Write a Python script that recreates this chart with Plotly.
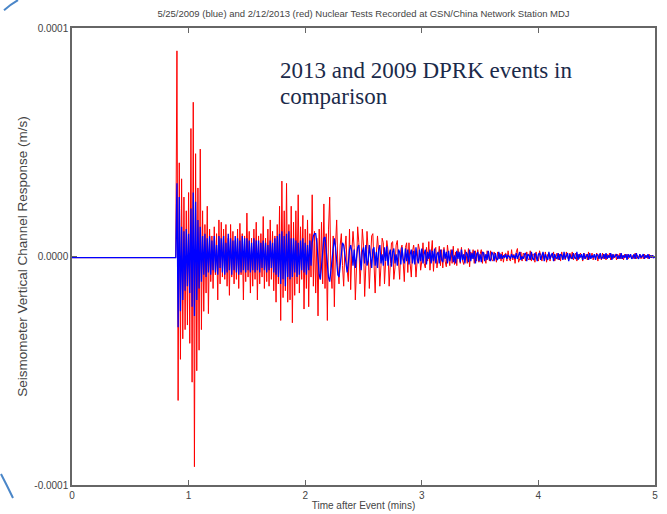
import numpy as np
import plotly.graph_objects as go

# Vertical-channel velocity at station MDJ, in units of 1e-5 m/s.
# Each record is sampled every 0.01 min starting at t = 0.89 min;
# before that the trace is quiet.
sample_start = 0.89
sample_step = 0.01
quiet_times = [0.0, 0.88]
quiet_level = [-0.05, -0.05]

# 2/12/2013 event (red)
red_amp = [
    -0.05, 9.0, -6.3, 4.1, -4.5, 3.4, -3.6, 2.6, -3.2, 2.0,
    -3.0, 2.8, -3.8, 5.6, -5.5, 6.75, -9.2, 4.5, -5.0, 3.0,
    -4.1, 4.7, -3.2, 2.0, -2.4, 1.4, -1.6, 2.2, -2.5, 1.2,
    -1.1, 0.9, -1.4, 1.3, -0.8, 1.0, -1.9, 1.6, -1.2, 1.5,
    -0.9, 1.2, -1.0, 1.4, -1.3, 0.8, -1.7, 1.4, -0.9, 1.1,
    -1.2, 0.7, -1.0, 1.2, -1.4, 1.45, -0.8, 1.0, -1.9, 0.9,
    -1.1, 1.9, -0.9, 1.1, -1.6, 0.8, -1.3, 1.2, -1.0, 1.5,
    -1.9, 0.9, -1.2, 1.0, -0.9, 1.75, -1.4, 0.8, -1.1, 1.2,
    -1.3, 1.6, -1.0, 1.1, -1.5, 0.9, -2.0, 1.4, -1.2, 2.2,
    -2.8, 3.3, -1.8, 2.0, -1.5, 3.2, -2.0, 1.4, -1.9, 2.2,
    -2.9, 1.5, -1.7, 2.0, -1.2, 2.7, -1.6, 1.3, -1.0, 1.8,
    -2.3, 1.2, -1.4, 1.6, -2.2, 1.0, -0.9, 2.7, -1.3, 1.1,
    -1.6, 0.8, -2.6, 1.2, -1.0, 1.5, -1.2, 2.3, -1.4, 1.0,
    -2.8, 1.2, 2.6, -0.6, -1.4, 0.9, -2.2, 0.5, 1.6, -0.4,
    -1.2, 0.5, 1.0, -0.4, -1.3, 0.3, 0.9, -0.6, -1.1, 1.2,
    -1.45, 0.2, 1.1, 0.4, -1.9, -0.5, 1.3, 0.6, -1.2, -0.3,
    1.2, 0.5, -1.75, -0.4, 1.1, 0.3, -1.4, -0.2, 0.9, 1.0,
    -0.3, -1.6, 0.1, 0.9, 0.2, -1.3, -0.4, 0.8, 0.6, -1.2,
    -0.2, 0.7, 0.3, -1.3, -0.3, 0.6, 0.65, -1.0, -0.5, 0.5,
    0.7, -0.4, -1.0, 0.3, 0.5, -0.2, -1.1, 0.4, 0.6, -0.7,
    0.6, -0.3, -0.9, 0.2, 0.5, 0.1, -0.9, -0.2, 0.55, 0.3,
    -0.6, -0.2, 0.6, -0.3, -0.5, 0.4, -0.2, 0.65, -0.6, 0.1,
    0.7, -0.65, 0.2, 0.4, -0.5, -0.1, 0.45, -0.4, 0.3, -0.5,
    0.4, -0.2, -0.45, 0.5, 0.1, -0.4, 0.3, -0.3, 0.45, -0.35,
    0.2, -0.4, 0.35, 0.1, -0.3, 0.4, -0.2, -0.35, 0.3, 0.1,
    -0.3, 0.35, -0.45, 0.2, -0.1, 0.3, -0.3, 0.25, -0.2, 0.3,
    -0.25, 0.1, 0.3, -0.3, 0.2, -0.1, -0.3, 0.25, 0.1, -0.2,
    0.25, -0.15, -0.2, 0.2, 0.05, -0.25, 0.2, -0.1, 0.15, -0.2,
    0.2, -0.25, 0.1, 0.15, -0.2, 0.25, -0.1, -0.2, 0.3, -0.15,
    0.1, -0.3, 0.2, 0.35, -0.25, -0.1, 0.2, -0.2, 0.15, 0.05,
    -0.2, 0.2, -0.1, -0.15, 0.25, -0.2, 0.1, 0.1, -0.25, 0.2,
    -0.1, -0.2, 0.25, 0.05, -0.2, 0.15, -0.1, 0.2, -0.25, 0.1,
    0.15, -0.2, 0.1, -0.05, 0.2, -0.2, 0.05, 0.15, -0.15, 0.1,
    -0.2, 0.2, -0.1, 0.1, -0.15, 0.2, -0.05, -0.15, 0.15, -0.1,
    0.2, -0.15, 0.05, 0.15, -0.2, 0.1, -0.1, 0.15, 0.05, -0.2,
    0.15, -0.1, 0.1, -0.15, 0.2, -0.1, -0.05, 0.15, -0.15, 0.1,
    -0.1, 0.15, -0.2, 0.1, 0.05, -0.15, 0.15, -0.1, 0.1, -0.15,
    0.1, -0.05, 0.15, -0.15, 0.1, -0.1, 0.05, 0.1, -0.15, 0.1,
    -0.1, 0.15, -0.1, 0.05, -0.15, 0.1, -0.05, 0.1, -0.1, 0.05,
    0.1, -0.1, 0.05, -0.1, 0.15, -0.1, 0.05, -0.05, 0.1, -0.1,
    0.05, -0.1, 0.1, -0.05, 0.05, -0.1, 0.1, -0.05, 0.05, -0.05, 0.0, -0.05,
]

# 5/25/2009 event (blue)
blue_amp = [
    -0.05, 3.2, -3.1, 2.6, -2.4, 1.3, -1.9, 1.1, -1.5, 1.2,
    -1.3, 1.0, -1.6, 2.1, -2.2, 2.8, -2.6, 2.4, -1.9, 1.6,
    -1.4, 1.3, -1.1, 0.9, -0.8, 1.0, -0.9, 0.8, -0.7, 0.9,
    -0.8, 0.7, -0.6, 0.9, -0.7, 0.5, -0.8, 0.9, -0.5, 0.8,
    -0.7, 0.9, -0.8, 0.6, -0.7, 1.0, -0.6, 0.8, -0.8, 0.7,
    -0.6, 0.9, -0.7, 0.8, -0.8, 0.7, -0.7, 0.9, -0.6, 0.8,
    -0.7, 0.8, -0.6, 0.7, -0.7, 0.6, -0.6, 0.8, -0.7, 0.7,
    -0.6, 0.7, -0.7, 0.6, -0.5, 0.7, -0.6, 0.6, -0.7, 0.5,
    -0.6, 0.7, -0.5, 0.6, -0.7, 0.8, -0.8, 0.9, -0.9, 1.0,
    -1.2, 1.1, -1.0, 0.9, -1.3, 1.0, -0.9, 1.1, -1.0, 0.8,
    -0.9, 0.8, -0.7, 0.7, -0.9, 0.6, -0.8, 0.7, -0.6, 0.8,
    -0.7, 0.6, -0.8, 0.5, -0.6, 0.7, -0.4, 0.6, 0.9, 1.0,
    1.0, 0.6, -0.2, -0.8, -1.0, -0.5, 0.3, 0.8, 0.85, 0.2,
    -0.5, -0.9, -1.1, -0.6, 0.1, 0.6, 0.8, 0.4, -0.3, -0.8,
    -0.9, -0.4, 0.2, 0.6, 0.5, 0.1, -0.5, -0.7, -0.3, 0.3,
    0.5, 0.2, -0.4, 0.3, -0.5, -0.1, 0.4, 0.5, -0.3, -0.6,
    0.2, 0.4, -0.3, 0.5, -0.4, -0.2, 0.5, -0.1, -0.5, 0.3,
    0.4, -0.4, 0.2, -0.5, 0.3, 0.5, -0.3, 0.1, -0.4, 0.4,
    -0.2, 0.45, -0.4, 0.1, 0.3, -0.45, 0.2, 0.35, -0.3, 0.1,
    -0.4, 0.3, 0.2, -0.35, 0.4, -0.1, -0.3, 0.35, -0.2, 0.3,
    -0.35, 0.1, 0.3, -0.3, 0.25, -0.35, 0.4, -0.1, -0.3, 0.3,
    -0.2, 0.35, -0.3, 0.1, 0.3, -0.35, 0.2, -0.1, 0.3, -0.3,
    0.25, -0.2, 0.35, -0.3, 0.1, 0.2, -0.3, 0.3, -0.15, -0.25,
    0.3, -0.1, 0.2, -0.3, 0.25, -0.2, 0.1, 0.3, -0.25, 0.05,
    -0.3, 0.25, -0.1, 0.2, -0.25, 0.3, -0.15, 0.1, -0.3, 0.2,
    0.1, -0.25, 0.3, -0.2, 0.15, -0.1, 0.25, -0.3, 0.1, 0.2,
    -0.2, 0.1, -0.25, 0.2, 0.15, -0.2, 0.1, -0.15, 0.25, -0.1,
    -0.2, 0.2, 0.1, -0.2, 0.15, -0.1, -0.15, 0.2, -0.1, 0.1,
    -0.1, 0.05, -0.05, 0.1, -0.1, 0.05, 0.0, -0.1, 0.1, -0.05,
    0.05, -0.1, 0.15, -0.1, 0.05, 0.2, -0.15, 0.0, -0.1, 0.1,
    0.15, -0.2, 0.1, 0.05, -0.15, 0.2, -0.1, -0.15, 0.15, 0.05,
    -0.2, 0.1, 0.15, -0.15, 0.05, 0.2, -0.2, 0.1, -0.05, -0.15,
    0.2, -0.1, 0.05, 0.15, -0.2, 0.1, -0.05, -0.1, 0.15, -0.15,
    0.1, 0.05, -0.15, 0.2, -0.1, 0.0, 0.15, -0.2, 0.1, -0.05,
    -0.1, 0.15, -0.05, -0.1, 0.2, -0.15, 0.1, -0.05, 0.1, -0.15,
    0.15, -0.1, 0.05, 0.1, -0.15, 0.15, -0.1, 0.05, -0.05, 0.1,
    -0.15, 0.1, 0.05, -0.1, 0.15, -0.1, -0.05, 0.1, -0.1, 0.15,
    -0.1, 0.05, -0.05, 0.15, -0.15, 0.1, -0.05, 0.05, 0.1, -0.1,
    0.05, -0.1, 0.15, -0.1, 0.05, -0.05, 0.1, -0.15, 0.1, -0.05,
    0.1, -0.1, -0.05, 0.1, -0.1, 0.15, -0.05, -0.1, 0.1, -0.05,
    0.05, 0.1, -0.1, 0.05, -0.05, 0.1, -0.1, 0.05, -0.05, 0.05, -0.05, 0.0,
]

x_ticks = [0, 1, 2, 3, 4, 5]
y_ticks = [-1e-4, 0.0, 1e-4]
y_tick_text = ["-0.0001", "0.0000", "0.0001"]

UNIT = 1e-5  # amplitudes above are in units of 1e-5 m/s


def trace_xy(amp):
    t = sample_start + sample_step * np.arange(len(amp))
    x = np.concatenate([quiet_times, t])
    y = np.concatenate([quiet_level, amp]) * UNIT
    return x, y


fig = go.Figure()
rx, ry = trace_xy(red_amp)
bx, by = trace_xy(blue_amp)
fig.add_trace(go.Scatter(x=rx, y=ry, mode="lines",
                         line=dict(color="#ff0000", width=1.0),
                         name="2/12/2013", showlegend=False, hoverinfo="skip"))
fig.add_trace(go.Scatter(x=bx, y=by, mode="lines",
                         line=dict(color="#0000ff", width=1.3),
                         name="5/25/2009", showlegend=False, hoverinfo="skip"))

axis_font = dict(family="Liberation Sans, Arial, sans-serif", size=10, color="#444444")

fig.update_xaxes(range=[0, 5], tickvals=x_ticks, ticks="inside", ticklen=5,
                 tickcolor="#666666", mirror="ticks", showline=True,
                 linecolor="#666666", linewidth=1.5, showgrid=False,
                 zeroline=False, tickfont=axis_font, automargin=False,
                 title=dict(text="Time after Event (mins)", font=axis_font, standoff=2))
fig.update_yaxes(range=[-1e-4, 1e-4], tickvals=y_ticks, ticktext=y_tick_text,
                 ticks="inside", ticklen=5, tickcolor="#666666", mirror="ticks",
                 showline=True, linecolor="#666666", linewidth=1.5,
                 showgrid=False, zeroline=False, tickfont=axis_font, automargin=False,
                 title=dict(text="Seismometer Vertical Channel Response (m/s)",
                            font=dict(family="Liberation Sans, Arial, sans-serif",
                                      size=13.5, color="#444444"),
                            standoff=4))

fig.update_layout(
    width=667, height=514,
    margin=dict(l=72, r=12, t=28, b=29),
    paper_bgcolor="white", plot_bgcolor="white",
    title=dict(text="5/25/2009 (blue) and 2/12/2013 (red) Nuclear Tests Recorded at GSN/China Network Station MDJ",
               font=dict(family="Liberation Sans, Arial, sans-serif", size=9.5, color="#444444"),
               x=0.5, xref="paper", xanchor="center",
               y=1 - 14 / 514, yref="container", yanchor="middle"),
)

serif = dict(family="Liberation Serif, Times New Roman, serif", size=23, color="#1b2a4a")
fig.add_annotation(text="2013 and 2009 DPRK events in", xref="paper", yref="paper",
                   x=0.353, y=0.906, xanchor="left", yanchor="middle",
                   showarrow=False, font=serif)
fig.add_annotation(text="comparison", xref="paper", yref="paper",
                   x=0.353, y=0.85, xanchor="left", yanchor="middle",
                   showarrow=False, font=serif)

# slide corner flourishes
fig.add_shape(type="path", xref="paper", yref="paper",
              path="M -0.1166 1.039 Q -0.105 1.052 -0.0926 1.061",
              line=dict(color="#4a86c8", width=2))
fig.add_shape(type="path", xref="paper", yref="paper",
              path="M -0.1218 0.024 Q -0.112 0.0 -0.1012 -0.0284",
              line=dict(color="#4a86c8", width=2))

fig.write_html("out.html")
